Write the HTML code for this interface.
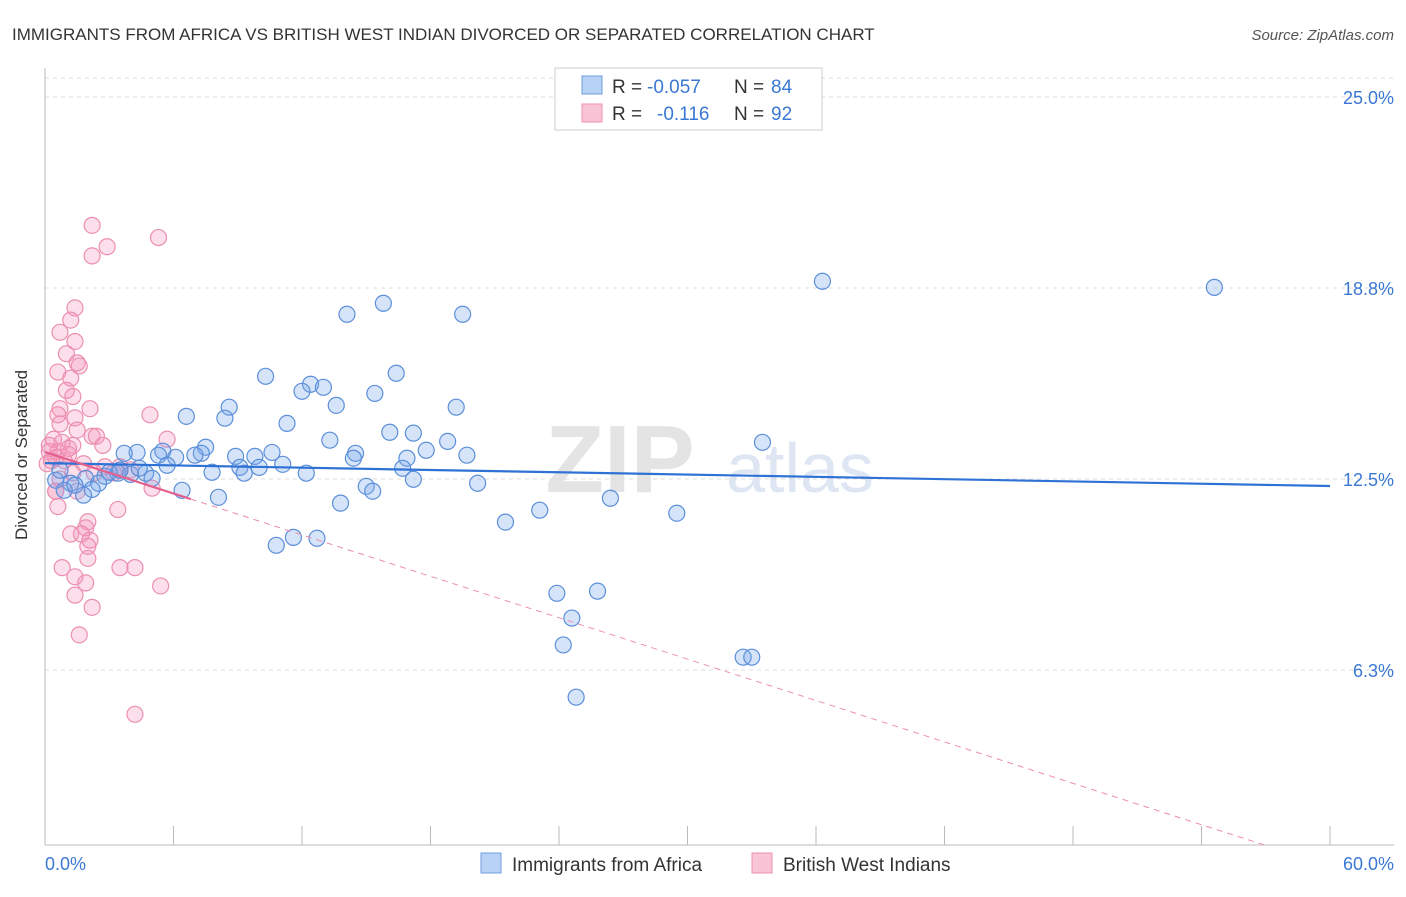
<!DOCTYPE html>
<html><head><meta charset="utf-8"><style>
body{margin:0;background:#fff;font-family:"Liberation Sans",sans-serif;}
svg text{font-family:"Liberation Sans",sans-serif;}
</style></head><body>
<svg width="1406" height="892" viewBox="0 0 1406 892">
<text x="12" y="40" font-size="17" fill="#333">IMMIGRANTS FROM AFRICA VS BRITISH WEST INDIAN DIVORCED OR SEPARATED CORRELATION CHART</text>
<text x="1394" y="40" font-size="15" fill="#555" font-style="italic" text-anchor="end">Source: ZipAtlas.com</text>
<text x="620" y="492" font-size="96" fill="#e4e4e4" font-family="Liberation Serif" font-weight="bold" text-anchor="middle">ZIP</text>
<text x="800" y="492" font-size="70" fill="#dde6f2" text-anchor="middle">atlas</text>
<g id="grid"></g>
<g id="axes"></g>
<g id="pink"></g>
<g id="blue"></g>
<g id="trends"></g>
<text x="27" y="455" font-size="17" fill="#333" text-anchor="middle" transform="rotate(-90 27 455)">Divorced or Separated</text>
<g>
<rect x="555" y="68" width="267" height="62" fill="#fff" stroke="#ccc"/>
<rect x="582" y="76" width="20" height="18" fill="#b8d2f5" stroke="#6f9ee0"/>
<rect x="582" y="104" width="20" height="18" fill="#f9c4d5" stroke="#eb92b0"/>
<text x="612" y="93" font-size="19" fill="#333">R =</text>
<text x="647" y="93" font-size="19" fill="#3a78d4">-0.057</text>
<text x="734" y="93" font-size="19" fill="#333">N =</text>
<text x="771" y="93" font-size="19" fill="#3a78d4">84</text>
<text x="612" y="120" font-size="19" fill="#333">R =</text>
<text x="657" y="120" font-size="19" fill="#3a78d4">-0.116</text>
<text x="734" y="120" font-size="19" fill="#333">N =</text>
<text x="771" y="120" font-size="19" fill="#3a78d4">92</text>
</g>
<g>
<rect x="481" y="853" width="20" height="20" fill="#b8d2f5" stroke="#6f9ee0"/>
<text x="512" y="871" font-size="19" fill="#333">Immigrants from Africa</text>
<rect x="752" y="853" width="20" height="20" fill="#f9c4d5" stroke="#eb92b0"/>
<text x="783" y="871" font-size="19" fill="#333">British West Indians</text>
</g>
</svg>
<script>
const blueX=[36.3,54.6,15.8,14.1,19.5,10.3,16.4,12.4,13.0,12.0,15.4,8.6,13.6,19.2,6.6,8.4,11.3,16.1,17.2,13.3,18.8,33.5,7.5,17.8,5.5,4.3,3.7,7.3,14.5,5.3,8.9,9.8,10.6,19.7,7.0,14.4,16.9,6.1,11.1,5.7,9.1,10.0,16.7,7.8,12.2,9.3,4.7,3.4,4.0,2.8,3.0,1.9,5.0,17.2,0.5,2.5,20.2,1.2,15.0,2.2,15.3,0.9,6.4,8.1,26.4,13.8,23.1,29.5,21.5,11.6,12.7,10.8,23.9,25.8,24.6,24.2,32.6,33.0,24.8,1.8,3.5,0.7,1.4,4.4];
const blueY=[18.97,18.77,18.25,17.89,17.89,15.86,15.96,15.60,15.50,15.37,15.30,14.85,14.91,14.85,14.55,14.49,14.32,14.03,14.00,13.77,13.73,13.70,13.54,13.44,13.41,13.37,13.34,13.34,13.34,13.28,13.24,13.24,13.37,13.28,13.28,13.18,13.18,13.21,12.98,12.95,12.88,12.88,12.85,12.72,12.69,12.69,12.69,12.69,12.65,12.59,12.72,12.52,12.52,12.49,12.46,12.36,12.36,12.36,12.26,12.16,12.10,12.13,12.13,11.90,11.87,11.71,11.48,11.38,11.09,10.59,10.56,10.33,8.76,8.83,7.95,7.07,6.67,6.67,5.36,11.97,12.79,12.79,12.30,12.85];
const pinkX=[2.2,5.3,2.9,2.2,1.4,1.2,0.7,1.4,1.0,1.5,1.6,0.6,1.2,1.0,1.3,2.1,0.7,0.6,4.9,1.4,0.7,1.5,5.7,2.2,2.4,2.7,0.4,0.8,1.3,0.2,0.6,1.1,0.5,0.9,0.3,0.1,1.8,2.8,3.5,4.0,2.3,3.2,1.3,0.5,1.5,5.0,0.6,3.4,2.0,1.9,1.2,1.7,2.0,2.1,2.0,0.8,3.5,4.2,1.9,1.4,5.4,1.4,2.2,1.6,4.2,0.5,0.7,1.1,0.2];
const pinkY=[20.8,20.4,20.1,19.8,18.1,17.7,17.3,17.0,16.6,16.3,16.2,16.0,15.8,15.4,15.2,14.8,14.8,14.6,14.6,14.5,14.3,14.1,13.8,13.9,13.9,13.6,13.8,13.7,13.6,13.4,13.4,13.3,13.2,13.1,13.1,13.0,13.0,12.9,12.9,12.8,12.7,12.7,12.7,12.1,12.1,12.2,11.6,11.5,11.1,10.9,10.7,10.7,10.3,10.5,9.9,9.6,9.6,9.6,9.1,9.3,9.0,8.7,8.3,7.4,4.8,12.1,12.5,13.5,13.6];
const yTicks=[25,18.75,12.5,6.25];
const yTickLabels=["25.0%","18.8%","12.5%","6.3%"];
const xTicks=[0,6,12,18,24,30,36,42,48,54,60];
const blueTrend=[13.02,12.27]; // y at x=0 and x=60
const pinkTrend=[13.38,-0.2258]; // intercept, slope
const pinkSolidEnd=6.8;

const NS="http://www.w3.org/2000/svg";
const X0=45,X1=1330,YB=861,PPU=191/6.25,AXIS_Y=845;
const sx=v=>X0+(v/60)*(X1-X0);
const sy=v=>YB-v*PPU;
function mk(tag,attrs,parent){const e=document.createElementNS(NS,tag);for(const k in attrs)e.setAttribute(k,attrs[k]);document.getElementById(parent).appendChild(e);return e;}

let g=mk('line',{x1:X0,x2:1394,y1:78,y2:78,stroke:'#ddd','stroke-dasharray':'4,4'},'grid');


yTicks.forEach((t,i)=>{
 const l=mk('line',{x1:X0,x2:1394,y1:sy(t),y2:sy(t),stroke:'#ddd','stroke-dasharray':'4,4'},'grid');
 
 
 const tx=mk('text',{x:1394,y:sy(t)+7,'font-size':18,fill:'#3a78d4','text-anchor':'end'},'grid');
 tx.textContent=yTickLabels[i];
 
 
});
let a=mk('line',{x1:X0,x2:X0,y1:68,y2:845,stroke:'#bbb'},'axes');


a=mk('line',{x1:X0,x2:1394,y1:845,y2:845,stroke:'#bbb'},'axes');


xTicks.forEach(t=>{
 const l=mk('line',{x1:sx(t),x2:sx(t),y1:826,y2:845,stroke:'#bbb'},'axes');
 
 
});
let xl=mk('text',{x:45,y:870,'font-size':18,fill:'#3a78d4'},'axes');xl.textContent='0.0%';


xl=mk('text',{x:1394,y:870,'font-size':18,fill:'#3a78d4','text-anchor':'end'},'axes');xl.textContent='60.0%';



pinkX.forEach((v,i)=>{
 const c=mk('circle',{cx:sx(v),cy:sy(pinkY[i]),r:8,fill:'rgba(244,150,185,0.3)',stroke:'#ec8fb0','stroke-width':1.2},'pink');
 
 
});
blueX.forEach((v,i)=>{
 const c=mk('circle',{cx:sx(v),cy:sy(blueY[i]),r:8,fill:'rgba(120,165,235,0.3)',stroke:'#5b8fd9','stroke-width':1.2},'blue');
 
 
});
let t=mk('line',{x1:sx(0),y1:sy(blueTrend[0]),x2:sx(60),y2:sy(blueTrend[1]),stroke:'#2f72d6','stroke-width':2.2},'trends');


const yAtAxis=(YB-AXIS_Y)/PPU;
const pEnd=(yAtAxis-pinkTrend[0])/pinkTrend[1];
t=mk('line',{x1:sx(pinkSolidEnd),y1:sy(pinkTrend[0]+pinkTrend[1]*pinkSolidEnd),x2:sx(pEnd),y2:sy(yAtAxis),stroke:'#ec8fb0','stroke-width':1,'stroke-dasharray':'6,5'},'trends');


t=mk('line',{x1:sx(0),y1:sy(pinkTrend[0]),x2:sx(pinkSolidEnd),y2:sy(pinkTrend[0]+pinkTrend[1]*pinkSolidEnd),stroke:'#e4608e','stroke-width':2.2},'trends');


</script>
</body></html>
